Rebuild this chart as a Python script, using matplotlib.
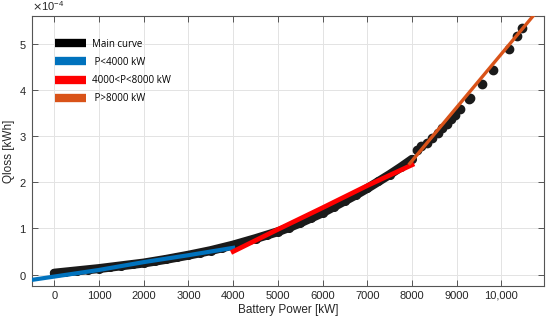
import numpy as np
import matplotlib.pyplot as plt
from matplotlib.lines import Line2D
from matplotlib.ticker import ScalarFormatter

# main curve (dense part), Qloss in units of 1e-4 kWh
main_p = [0, 250, 500, 750, 1000, 1250, 1500, 1750, 2000, 2250, 2500, 2750,
          3000, 3250, 3500, 3750, 4000, 4250, 4500, 4750, 5000, 5250, 5500,
          5750, 6000, 6250, 6500, 6750, 7000, 7250, 7500, 7750, 8000]
main_q = [0.03, 0.055, 0.08, 0.105, 0.13, 0.16, 0.19, 0.22, 0.25, 0.29, 0.33,
          0.375, 0.42, 0.47, 0.52, 0.58, 0.64, 0.71, 0.78, 0.855, 0.93, 1.02,
          1.12, 1.23, 1.34, 1.47, 1.60, 1.73, 1.87, 2.02, 2.17, 2.33, 2.50]

# main curve (sparse points above 8000 kW)
sparse_p = [8120, 8200, 8340, 8450, 8570, 8680, 8790, 8870, 8950, 9080,
            9280, 9300, 9570, 9800, 10160, 10340, 10450]
sparse_q = [2.70, 2.78, 2.85, 2.97, 3.07, 3.17, 3.27, 3.37, 3.46, 3.59,
            3.81, 3.84, 4.13, 4.44, 4.90, 5.18, 5.35]

# piecewise fits
low_p = [-500, 1000, 2000, 3000, 4000]
low_q = [-0.115, 0.10, 0.27, 0.42, 0.58]
mid_p = [4000, 5000, 6000, 7000, 8000]
mid_q = [0.50, 0.98, 1.45, 1.93, 2.38]
high_p = [7950, 10750]
high_q = [2.41, 5.66]

xticks = [0, 1000, 2000, 3000, 4000, 5000, 6000, 7000, 8000, 9000, 10000]
xtick_labels = ['0', '1000', '2000', '3000', '4000', '5000', '6000', '7000',
                '8000', '9000', '10,000']

plt.rcParams['font.family'] = ['Liberation Sans', 'DejaVu Sans']

blue = (0.0, 0.447, 0.741)
red = (1.0, 0.0, 0.0)
orange = (0.85, 0.325, 0.098)

fig = plt.figure(figsize=(5.5, 3.24), dpi=100)
ax = fig.add_axes([0.058, 0.117, 0.931, 0.835])

s = 1e-4
ax.plot(main_p, np.array(main_q) * s, '-', color='#1a1a1a', lw=6.5,
        solid_capstyle='round', zorder=2)
ax.plot(main_p, np.array(main_q) * s, 'o', color='#1a1a1a', ms=5.5, zorder=2)
ax.plot(sparse_p, np.array(sparse_q) * s, 'o', color='#1a1a1a', ms=6, zorder=2)

ax.plot(low_p, np.array(low_q) * s, '-', color=blue, lw=3, zorder=3)
ax.plot(mid_p, np.array(mid_q) * s, '-', color=red, lw=3.4, zorder=3)
ax.plot(high_p, np.array(high_q) * s, '-', color=orange, lw=2.4, zorder=3)

ax.set_xlim(-500, 10950)
ax.set_ylim(-0.25e-4, 5.62e-4)
ax.set_xticks(xticks)
ax.set_xticklabels(xtick_labels)
ax.set_yticks(np.arange(0, 6) * s)

fmt = ScalarFormatter(useMathText=True)
fmt.set_powerlimits((0, 0))
ax.yaxis.set_major_formatter(fmt)
ax.yaxis.get_offset_text().set_fontsize(8)
ax.yaxis.get_offset_text().set_color('#333333')

ax.grid(True, color='#e3e3e3', lw=0.7)
ax.set_axisbelow(True)
ax.tick_params(direction='in', length=4, width=0.7, colors='#555555',
               labelcolor='#262626', labelsize=8, top=True, right=True)
for sp in ax.spines.values():
    sp.set_color('#555555')
    sp.set_linewidth(0.8)

ax.set_xlabel('Battery Power [kW]', fontsize=8.5, color='#262626', labelpad=2)
ax.set_ylabel('Qloss [kWh]', fontsize=8.5, color='#262626', labelpad=3)

handles = [Line2D([], [], color=c, lw=6, solid_capstyle='butt')
           for c in ['black', blue, red, orange]]
labels = ['Main curve', ' P<4000 kW', '4000<P<8000 kW', ' P>8000 kW']
ax.legend(handles, labels, loc='upper left', bbox_to_anchor=(0.045, 0.915),
          frameon=False, handlelength=3.2, labelspacing=0.75,
          borderaxespad=0, borderpad=0, handletextpad=0.6,
          prop={'family': 'Open Sans', 'size': 7})

fig.savefig('out.png', dpi=100)
